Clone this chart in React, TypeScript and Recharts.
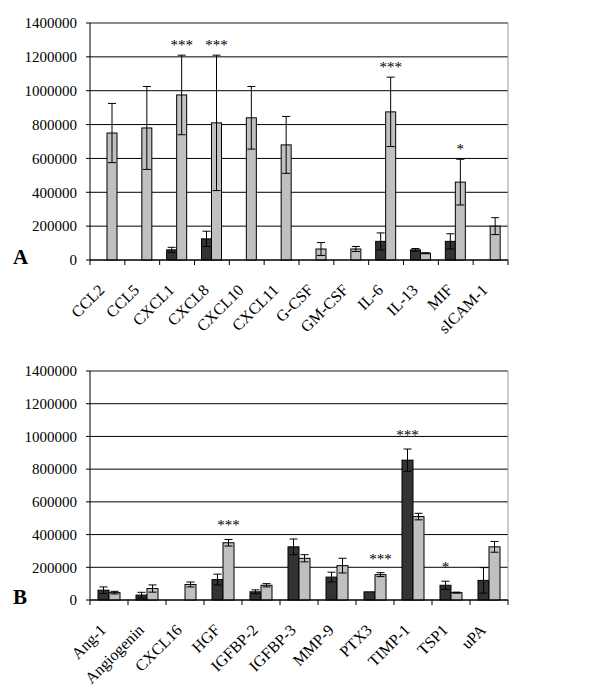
import React from "react"
import { ComposedChart, Bar, XAxis, YAxis, CartesianGrid, ErrorBar, ReferenceLine } from "recharts"

const catsA = ["CCL2", "CCL5", "CXCL1", "CXCL8", "CXCL10", "CXCL11", "G-CSF", "GM-CSF", "IL-6", "IL-13", "MIF", "sICAM-1"]
const darkA = [0, 0, 60000, 125000, 0, 0, 0, 0, 110000, 60000, 110000, 0]
const darkErrA = [0, 0, 15000, 45000, 0, 0, 0, 0, 50000, 8000, 45000, 0]
const lightA = [750000, 780000, 975000, 810000, 840000, 680000, 65000, 65000, 875000, 40000, 460000, 200000]
const lightErrA = [175000, 245000, 235000, 400000, 185000, 168000, 38000, 15000, 205000, 3000, 135000, 50000]
const starsDarkA = ["", "", "", "", "", "", "", "", "", "", "", ""]
const starsLightA = ["", "", "***", "***", "", "", "", "", "***", "", "*", ""]

const catsB = ["Ang-1", "Angiogenin", "CXCL16", "HGF", "IGFBP-2", "IGFBP-3", "MMP-9", "PTX3", "TIMP-1", "TSP1", "uPA"]
const darkB = [60000, 30000, 0, 125000, 50000, 325000, 140000, 50000, 855000, 90000, 120000]
const darkErrB = [20000, 17000, 0, 33000, 12000, 48000, 30000, 0, 68000, 25000, 78000]
const lightB = [45000, 70000, 95000, 350000, 90000, 255000, 210000, 155000, 510000, 45000, 325000]
const lightErrB = [8000, 22000, 15000, 20000, 10000, 22000, 45000, 12000, 20000, 3000, 33000]
const starsDarkB = ["", "", "", "", "", "", "", "", "***", "*", ""]
const starsLightB = ["", "", "", "***", "", "", "", "***", "", "", ""]

const yTicks = [0, 200000, 400000, 600000, 800000, 1000000, 1200000, 1400000]

const FONT = "Liberation Serif"
const DARK = "#333333"
const LIGHT = "#c0c0c0"
const PLOT_LEFT = 90
const PLOT_RIGHT = 508
const AXIS_Y = 260

function makeRows(cats: string[], dark: number[], darkErr: number[], light: number[], lightErr: number[], sd: string[], sl: string[]) {
  return cats.map((name, i) => ({
    name,
    dark: dark[i],
    darkErr: darkErr[i],
    light: light[i],
    lightErr: lightErr[i],
    starDark: sd[i],
    starLight: sl[i],
  }))
}

function makeShape(fill: string, valKey: string, errKey: string, starKey: string, starGap: number) {
  return (props: any) => {
    const { x, y, width, height, payload } = props
    if (!height || height <= 0) return <g />
    const value = payload[valKey]
    const star = payload[starKey]
    const perUnit = height / value
    const errTop = y - payload[errKey] * perUnit
    return (
      <g>
        <rect x={x} y={y} width={width} height={height} fill={fill} stroke="#000" strokeWidth={1} />
        {star ? (
          <text x={x + width / 2} y={errTop - starGap} textAnchor="middle" fontFamily={FONT} fontSize={15} fill="#000">
            {star}
          </text>
        ) : null}
      </g>
    )
  }
}

function makeTick(n: number) {
  const band = (PLOT_RIGHT - PLOT_LEFT) / n
  return (props: any) => {
    const { x, payload, index } = props
    const left = x - band / 2
    return (
      <g>
        <line x1={left} y1={AXIS_Y} x2={left} y2={AXIS_Y + 5} stroke="#000" />
        {index === n - 1 ? <line x1={x + band / 2} y1={AXIS_Y} x2={x + band / 2} y2={AXIS_Y + 5} stroke="#000" /> : null}
        <text
          transform={`translate(${x - 2}, ${AXIS_Y + 31}) rotate(-45)`}
          textAnchor="end"
          fontFamily={FONT}
          fontSize={16}
          fill="#000"
        >
          {payload.value}
        </text>
      </g>
    )
  }
}

function Panel({ rows, height, top, barSize, starGap }: any) {
  const n = rows.length
  return (
    <ComposedChart
      width={600}
      height={height}
      data={rows}
      margin={{ top, right: 600 - PLOT_RIGHT, left: 0, bottom: 0 }}
      barGap={0}
    >
      <CartesianGrid vertical={false} stroke="#000" />
      <CartesianGrid horizontal={false} verticalPoints={[PLOT_RIGHT]} stroke="#999" />
      <XAxis
        dataKey="name"
        height={height - AXIS_Y}
        interval={0}
        tickLine={false}
        axisLine={{ stroke: "#000" }}
        tick={makeTick(n)}
      />
      <YAxis
        width={PLOT_LEFT}
        domain={[0, 1400000]}
        ticks={yTicks}
        interval={0}
        tickSize={4}
        tickMargin={9}
        axisLine={{ stroke: "#000" }}
        tickLine={{ stroke: "#000" }}
        tick={{ fontFamily: FONT, fontSize: 15, fill: "#000" }}
      />
      <ReferenceLine y={1400000} stroke="#999" />
      <Bar dataKey="dark" barSize={barSize} isAnimationActive={false} shape={makeShape(DARK, "dark", "darkErr", "starDark", starGap)}>
        <ErrorBar dataKey="darkErr" width={4} stroke="#000" strokeWidth={1} direction="y" />
      </Bar>
      <Bar dataKey="light" barSize={barSize} isAnimationActive={false} shape={makeShape(LIGHT, "light", "lightErr", "starLight", starGap)}>
        <ErrorBar dataKey="lightErr" width={4} stroke="#000" strokeWidth={1} direction="y" />
      </Bar>
    </ComposedChart>
  )
}

const rowsA = makeRows(catsA, darkA, darkErrA, lightA, lightErrA, starsDarkA, starsLightA)
const rowsB = makeRows(catsB, darkB, darkErrB, lightB, lightErrB, starsDarkB, starsLightB)

export default function App() {
  return (
    <div style={{ position: "absolute", left: 0, top: 0, width: 600, height: 691, background: "#fff", overflow: "hidden" }}>
      <div style={{ position: "absolute", left: 0, top: 0 }}>
        <Panel rows={rowsA} height={340} top={23} barSize={10} starGap={5} />
      </div>
      <div style={{ position: "absolute", left: 0, top: 340 }}>
        <Panel rows={rowsB} height={351} top={31} barSize={11} starGap={9} />
      </div>
      <div style={{ position: "absolute", left: 13, top: 247, fontFamily: FONT, fontWeight: "bold", fontSize: 21, lineHeight: "21px" }}>A</div>
      <div style={{ position: "absolute", left: 13, top: 587, fontFamily: FONT, fontWeight: "bold", fontSize: 21, lineHeight: "21px" }}>B</div>
    </div>
  )
}
